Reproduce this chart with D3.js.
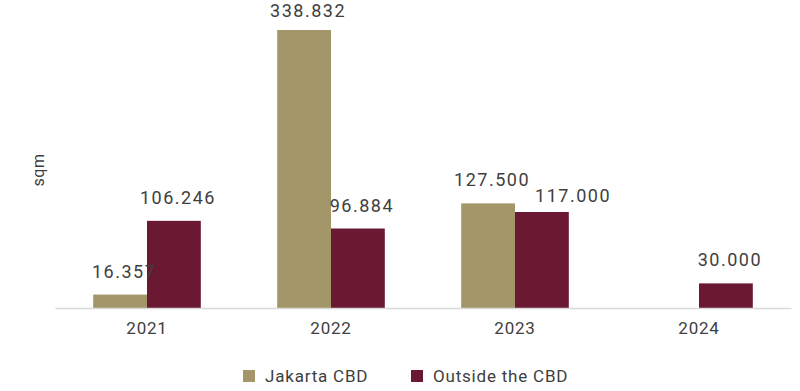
<!DOCTYPE html>
<html><head><meta charset="utf-8">
<script src="https://cdn.jsdelivr.net/npm/d3@7"></script>
<style>body{margin:0;background:#fff}text{font-family:Roboto,"DejaVu Sans",sans-serif;font-weight:400}</style>
</head><body><svg id="c" width="800" height="391"></svg>
<script>
const categories = ["2021","2022","2023","2024"];
const seriesNames = ["Jakarta CBD","Outside the CBD"];
const jakartaCBD = [16.357, 338.832, 127.5, null];
const outsideCBD = [106.246, 96.884, 117.0, 30.0];
const labelsJakarta = ["16.357","338.832","127.500",""];
const labelsOutside = ["106.246","96.884","117.000","30.000"];
const colors = ["#A39669","#6B1832"];

const svg = d3.select("#c");
const base = 308;
const x = d3.scaleBand().domain(categories).range([55,791]).paddingInner(0).paddingOuter(0);
const xs = d3.scaleBand().domain(seriesNames).range([0,x.bandwidth()]).paddingInner(0).paddingOuter(0.71);
const y = d3.scaleLinear().domain([0,338.832]).range([base,30]);

const series = [jakartaCBD, outsideCBD];
const labels = [labelsJakarta, labelsOutside];
series.forEach((vals,si)=>{
  const g = svg.append("g");
  categories.forEach((c,i)=>{
    const v = vals[i];
    if(v==null) return;
    const bx = x(c)+xs(seriesNames[si]);
    g.append("rect").attr("x",bx).attr("y",y(v)).attr("width",xs.bandwidth()).attr("height",base-y(v)).attr("fill",colors[si]);
  });
});
const labelStyle = t => t.attr("font-size",18).attr("fill","#404040").attr("letter-spacing","1.5");
categories.forEach((c,i)=>{
  const boxes = [];
  series.forEach((vals,si)=>{
    const v = vals[i];
    if(v==null) return;
    const cx = x(c)+xs(seriesNames[si])+xs.bandwidth()/2 + 4;
    let ly = Math.max(17, y(v)-17);
    const t = svg.append("text").attr("x",cx).attr("y",ly).attr("text-anchor","middle").call(labelStyle).text(labels[si][i]);
    let bb = t.node().getBBox();
    const prev = boxes[boxes.length-1];
    if(prev && bb.x < prev.x+prev.width && bb.y < prev.y+prev.height && bb.y+bb.height > prev.y){
      const shift = prev.x+prev.width+5 - bb.x;
      t.attr("x",cx+shift).attr("y",y(v)-10);
      bb = t.node().getBBox();
    }
    boxes.push(bb);
  });
});
// axis
const ax = svg.append("g").attr("transform",`translate(0,${base})`).call(d3.axisBottom(x).tickSize(0).tickPadding(14));
ax.select(".domain").attr("stroke","#d9d9d9").attr("stroke-width",1.5);
ax.selectAll("text").attr("font-size",17).attr("fill","#404040").attr("font-family","Roboto,'DejaVu Sans',sans-serif").attr("letter-spacing","0.8");
// y title
svg.append("text").attr("transform","translate(44,170) rotate(-90)").attr("text-anchor","middle").attr("font-size",16).attr("fill","#404040").attr("letter-spacing","0.6").text("sqm");
// legend
const legX = [243, 411];
seriesNames.forEach((n,i)=>{
  svg.append("rect").attr("x",legX[i]).attr("y",370).attr("width",12).attr("height",12).attr("fill",colors[i]);
  svg.append("text").attr("x",legX[i]+22).attr("y",382).attr("font-size",17).attr("fill","#404040").attr("letter-spacing","0.8").text(n);
});
</script></body></html>
